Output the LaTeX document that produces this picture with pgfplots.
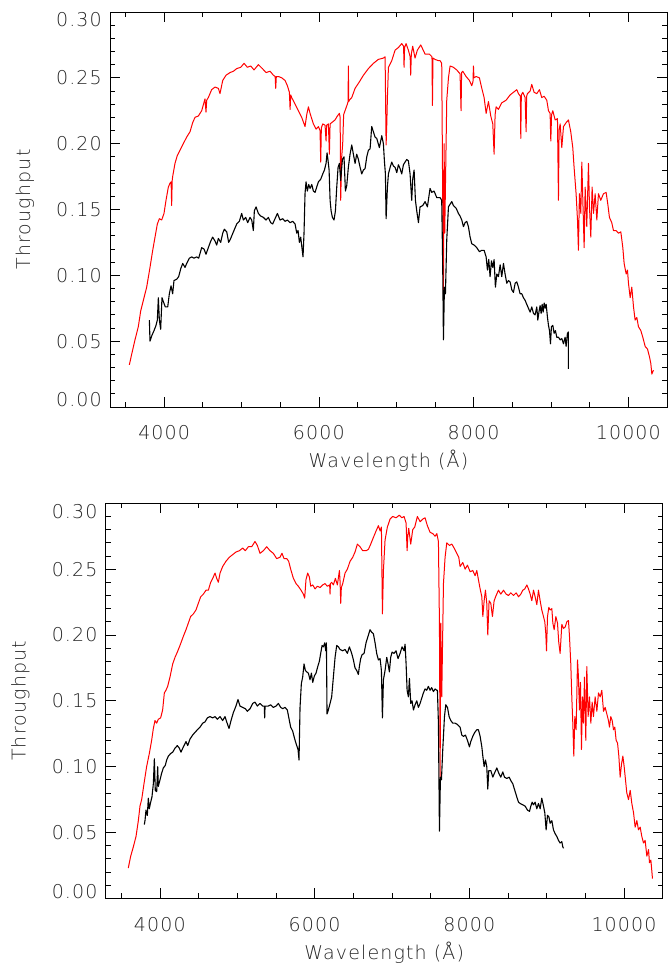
\documentclass[border=0pt]{standalone}
\usepackage{fontspec}
\IfFontExistsTF{DejaVu Sans ExtraLight}{\setmainfont{DejaVu Sans ExtraLight}[LetterSpace=6]}{\setmainfont{DejaVu Sans}[LetterSpace=6]}
\usepackage{pgfplots}
\pgfplotsset{compat=1.18}
\newcommand{\lf}{\fontsize{19bp}{23bp}\selectfont}
\pgfplotsset{panel/.style={
  scale only axis, width=557bp, height=395bp, anchor=south west,
  xmin=3300, xmax=10500, ymin=0, ymax=0.30,
  scaled x ticks=false, scaled y ticks=false,
  xtick={4000,6000,8000,10000}, xticklabels={4000,6000,8000,10000},
  minor xtick={3500,4500,5000,5500,6500,7000,7500,8500,9000,9500,10500},
  ytick={0,0.05,0.1,0.15,0.2,0.25,0.3},
  yticklabels={\vphantom{0}\smash{\raisebox{7bp}{0.00}},0.05,0.10,0.15,0.20,0.25,\vphantom{0}\smash{\raisebox{-8bp}{0.30}}},
  minor ytick={0.01,0.02,0.03,0.04,0.06,0.07,0.08,0.09,0.11,0.12,0.13,0.14,0.16,0.17,0.18,0.19,0.21,0.22,0.23,0.24,0.26,0.27,0.28,0.29},
  tick align=inside, major tick length=10bp, minor tick length=5bp,
  axis line style={line width=0.8bp},
  every tick/.style={black, line width=0.7bp},
  tick label style={font=\lf, inner sep=0pt, text=black!85},
  xticklabel style={anchor=base, yshift=-33bp},
  yticklabel style={anchor=east, xshift=-8bp},
  label style={font=\lf, text=black!85},
  xlabel={Wavelength (Å)}, ylabel={Throughput},
  xlabel style={at={(axis description cs:0.5,-0.137)}, anchor=center},
  ylabel style={at={(axis description cs:-0.153,0.5)}, anchor=center},
  redline/.style={color=red, line width=1.0bp, line join=round},
  blackline/.style={color=black, line width=1.1bp, line join=round},
}}
\begin{document}
\begin{tikzpicture}
\useasboundingbox (0,0) rectangle (668bp,967bp);
% ---------------- top panel ----------------
\begin{axis}[panel, at={(110bp,560bp)}]
\addplot[redline] coordinates {
(3550,0.032)(3580,0.040)(3623,0.051)(3666,0.061)(3697,0.073)(3731,0.081)(3774,0.091)(3817,0.106)(3852,0.119)(3882,0.129)(3912,0.139)(3938,0.143)(3968,0.142)(3998,0.147)(4024,0.157)(4054,0.167)(4076,0.170)(4090,0.171)(4097,0.153)(4104,0.172)(4110,0.175)(4140,0.185)(4170,0.191)(4205,0.195)(4248,0.200)(4291,0.205)(4334,0.209)(4369,0.216)(4399,0.220)(4442,0.221)(4485,0.225)(4528,0.234)(4541,0.224)(4550,0.233)(4571,0.235)(4614,0.241)(4658,0.243)(4701,0.242)(4722,0.238)(4757,0.248)(4800,0.252)(4852,0.254)(4895,0.255)(4938,0.257)(4990,0.258)(5033,0.261)(5076,0.258)(5119,0.259)(5162,0.256)(5218,0.260)(5270,0.257)(5317,0.254)(5369,0.255)(5412,0.252)(5435,0.251)(5442,0.242)(5450,0.251)(5477,0.251)(5520,0.250)(5563,0.248)(5593,0.244)(5619,0.239)(5628,0.226)(5636,0.237)(5649,0.235)(5692,0.230)(5735,0.225)(5778,0.220)(5821,0.213)(5843,0.222)(5865,0.228)(5886,0.223)(5929,0.215)(5964,0.211)(5994,0.213)(6015,0.210)(6024,0.186)(6032,0.212)(6050,0.215)(6080,0.214)(6093,0.202)(6100,0.214)(6123,0.215)(6136,0.192)(6145,0.215)(6166,0.216)(6209,0.218)(6239,0.221)(6265,0.223)(6275,0.220)(6282,0.157)(6295,0.190)(6308,0.200)(6320,0.222)(6338,0.225)(6368,0.230)(6378,0.232)(6381,0.259)(6386,0.232)(6394,0.233)(6425,0.235)(6468,0.242)(6524,0.247)(6576,0.252)(6640,0.257)(6705,0.261)(6769,0.264)(6834,0.265)(6856,0.266)(6869,0.199)(6878,0.215)(6886,0.235)(6899,0.258)(6942,0.263)(6985,0.271)(7028,0.273)(7071,0.276)(7095,0.274)(7101,0.258)(7108,0.273)(7127,0.276)(7157,0.271)(7180,0.266)(7187,0.252)(7195,0.268)(7213,0.274)(7243,0.265)(7273,0.271)(7317,0.275)(7373,0.268)(7429,0.268)(7462,0.266)(7468,0.229)(7475,0.265)(7502,0.264)(7545,0.263)(7567,0.263)(7588,0.261)(7601,0.157)(7610,0.086)(7619,0.200)(7627,0.132)(7653,0.233)(7675,0.250)(7696,0.259)(7739,0.258)(7782,0.256)(7825,0.253)(7838,0.225)(7845,0.254)(7860,0.255)(7903,0.251)(7946,0.248)(7976,0.244)(7992,0.247)(7998,0.259)(8005,0.250)(8032,0.251)(8075,0.250)(8106,0.242)(8136,0.235)(8162,0.223)(8192,0.232)(8222,0.221)(8248,0.215)(8265,0.192)(8278,0.222)(8291,0.228)(8321,0.226)(8364,0.231)(8420,0.233)(8472,0.237)(8515,0.239)(8558,0.241)(8580,0.238)(8605,0.236)(8610,0.204)(8617,0.237)(8636,0.239)(8666,0.235)(8679,0.209)(8686,0.236)(8696,0.238)(8731,0.240)(8752,0.245)(8782,0.239)(8817,0.238)(8851,0.241)(8881,0.235)(8912,0.236)(8946,0.233)(8968,0.225)(8989,0.223)(8998,0.202)(9008,0.222)(9024,0.225)(9054,0.218)(9084,0.219)(9097,0.157)(9105,0.210)(9119,0.215)(9140,0.197)(9162,0.213)(9196,0.216)(9226,0.218)(9256,0.209)(9282,0.197)(9299,0.182)(9325,0.162)(9343,0.142)(9355,0.119)(9368,0.162)(9386,0.147)(9399,0.186)(9412,0.157)(9429,0.121)(9442,0.167)(9463,0.137)(9485,0.185)(9498,0.152)(9515,0.129)(9532,0.167)(9550,0.147)(9571,0.162)(9593,0.142)(9614,0.162)(9644,0.157)(9679,0.162)(9713,0.163)(9735,0.154)(9756,0.144)(9786,0.140)(9808,0.134)(9842,0.134)(9872,0.132)(9903,0.133)(9929,0.121)(9946,0.109)(9972,0.101)(9989,0.104)(10002,0.094)(10024,0.083)(10045,0.091)(10067,0.076)(10088,0.066)(10110,0.068)(10131,0.061)(10162,0.058)(10187,0.053)(10218,0.046)(10248,0.044)(10274,0.038)(10291,0.033)(10304,0.025)(10325,0.028)
};
\addplot[blackline] coordinates {
(3809,0.066)(3817,0.050)(3839,0.054)(3869,0.058)(3895,0.062)(3912,0.066)(3925,0.083)(3938,0.066)(3955,0.059)(3972,0.083)(3990,0.080)(4015,0.076)(4046,0.076)(4067,0.086)(4089,0.092)(4110,0.086)(4127,0.096)(4162,0.097)(4188,0.099)(4214,0.105)(4240,0.109)(4270,0.106)(4291,0.109)(4326,0.113)(4356,0.114)(4386,0.113)(4421,0.114)(4446,0.113)(4485,0.121)(4515,0.120)(4541,0.116)(4571,0.121)(4602,0.126)(4627,0.129)(4658,0.126)(4679,0.123)(4701,0.128)(4731,0.125)(4757,0.132)(4778,0.135)(4809,0.133)(4834,0.125)(4860,0.128)(4895,0.133)(4938,0.139)(4972,0.141)(5002,0.147)(5024,0.142)(5054,0.144)(5080,0.140)(5110,0.144)(5132,0.142)(5153,0.134)(5166,0.149)(5188,0.152)(5218,0.147)(5248,0.145)(5283,0.144)(5317,0.142)(5347,0.144)(5377,0.140)(5403,0.139)(5433,0.143)(5464,0.147)(5498,0.142)(5533,0.143)(5563,0.141)(5593,0.142)(5628,0.140)(5662,0.141)(5692,0.139)(5714,0.132)(5731,0.134)(5748,0.125)(5765,0.129)(5783,0.120)(5795,0.114)(5808,0.132)(5821,0.162)(5834,0.171)(5851,0.164)(5869,0.169)(5886,0.166)(5908,0.169)(5929,0.164)(5951,0.163)(5972,0.167)(5994,0.171)(6024,0.173)(6050,0.177)(6072,0.180)(6093,0.185)(6106,0.193)(6119,0.187)(6132,0.180)(6145,0.157)(6158,0.149)(6175,0.144)(6196,0.142)(6214,0.149)(6231,0.167)(6248,0.182)(6265,0.185)(6282,0.172)(6304,0.188)(6325,0.190)(6343,0.164)(6360,0.168)(6381,0.182)(6403,0.192)(6425,0.199)(6446,0.192)(6468,0.185)(6489,0.192)(6511,0.188)(6533,0.182)(6554,0.177)(6576,0.180)(6597,0.181)(6619,0.190)(6640,0.195)(6662,0.196)(6683,0.213)(6705,0.209)(6726,0.205)(6748,0.204)(6782,0.197)(6813,0.206)(6834,0.200)(6847,0.187)(6860,0.177)(6869,0.143)(6886,0.167)(6899,0.177)(6921,0.182)(6942,0.186)(6964,0.183)(6985,0.182)(7007,0.178)(7028,0.184)(7050,0.181)(7071,0.177)(7093,0.184)(7114,0.186)(7136,0.188)(7157,0.187)(7179,0.177)(7200,0.157)(7213,0.173)(7231,0.180)(7248,0.157)(7265,0.149)(7287,0.140)(7308,0.152)(7343,0.153)(7373,0.156)(7403,0.152)(7437,0.166)(7459,0.163)(7489,0.164)(7524,0.159)(7567,0.159)(7588,0.157)(7601,0.106)(7610,0.051)(7623,0.091)(7636,0.086)(7653,0.127)(7675,0.152)(7696,0.154)(7718,0.156)(7739,0.153)(7774,0.151)(7804,0.147)(7825,0.145)(7847,0.142)(7869,0.137)(7890,0.140)(7912,0.141)(7933,0.137)(7955,0.129)(7976,0.124)(8006,0.123)(8041,0.121)(8075,0.118)(8106,0.119)(8136,0.119)(8162,0.114)(8179,0.104)(8196,0.112)(8213,0.099)(8231,0.111)(8248,0.106)(8265,0.112)(8282,0.091)(8300,0.101)(8321,0.099)(8343,0.108)(8364,0.099)(8386,0.109)(8407,0.101)(8429,0.094)(8450,0.096)(8472,0.095)(8494,0.089)(8515,0.087)(8537,0.094)(8558,0.095)(8580,0.091)(8601,0.086)(8623,0.086)(8644,0.083)(8666,0.081)(8687,0.078)(8709,0.075)(8731,0.072)(8752,0.076)(8774,0.071)(8795,0.070)(8817,0.076)(8830,0.066)(8847,0.073)(8860,0.077)(8873,0.071)(8886,0.078)(8899,0.072)(8912,0.079)(8925,0.075)(8938,0.078)(8955,0.068)(8968,0.062)(8981,0.058)(8994,0.048)(9006,0.061)(9024,0.062)(9041,0.056)(9058,0.058)(9075,0.053)(9097,0.053)(9119,0.051)(9140,0.052)(9162,0.048)(9183,0.053)(9196,0.046)(9213,0.056)(9226,0.057)(9226,0.029)
};
\end{axis}
% ---------------- bottom panel ----------------
\begin{axis}[panel, at={(105.7bp,68.7bp)}]
\addplot[redline] coordinates {
(3592,0.023)(3623,0.032)(3657,0.039)(3692,0.047)(3722,0.059)(3743,0.070)(3765,0.075)(3795,0.087)(3829,0.100)(3864,0.110)(3894,0.120)(3916,0.129)(3937,0.135)(3959,0.133)(3980,0.136)(4010,0.137)(4036,0.143)(4058,0.156)(4079,0.158)(4101,0.161)(4131,0.168)(4166,0.178)(4196,0.183)(4226,0.187)(4260,0.192)(4304,0.199)(4338,0.204)(4368,0.209)(4398,0.214)(4433,0.216)(4467,0.219)(4497,0.224)(4528,0.229)(4562,0.231)(4597,0.234)(4627,0.234)(4657,0.240)(4691,0.244)(4713,0.247)(4735,0.243)(4756,0.240)(4778,0.247)(4812,0.252)(4855,0.256)(4898,0.259)(4941,0.261)(4984,0.263)(5028,0.264)(5071,0.266)(5105,0.264)(5144,0.267)(5187,0.267)(5230,0.271)(5260,0.268)(5295,0.262)(5338,0.264)(5381,0.267)(5424,0.264)(5467,0.262)(5510,0.258)(5553,0.259)(5579,0.262)(5605,0.258)(5640,0.258)(5665,0.256)(5691,0.250)(5726,0.243)(5760,0.239)(5790,0.237)(5825,0.234)(5855,0.231)(5872,0.228)(5889,0.242)(5911,0.247)(5933,0.244)(5950,0.237)(5976,0.238)(6006,0.235)(6036,0.237)(6071,0.236)(6105,0.238)(6135,0.239)(6165,0.237)(6195,0.238)(6200,0.231)(6205,0.239)(6221,0.240)(6243,0.238)(6269,0.243)(6295,0.238)(6321,0.249)(6330,0.240)(6338,0.224)(6346,0.236)(6364,0.239)(6394,0.247)(6424,0.250)(6459,0.256)(6493,0.259)(6523,0.263)(6553,0.269)(6588,0.267)(6622,0.264)(6666,0.264)(6696,0.265)(6726,0.269)(6760,0.274)(6795,0.279)(6825,0.283)(6847,0.279)(6864,0.282)(6877,0.216)(6890,0.249)(6911,0.272)(6941,0.282)(6976,0.288)(7010,0.290)(7053,0.289)(7096,0.291)(7127,0.289)(7157,0.290)(7183,0.285)(7196,0.264)(7205,0.275)(7217,0.281)(7243,0.269)(7269,0.280)(7295,0.282)(7329,0.290)(7364,0.286)(7398,0.288)(7428,0.289)(7458,0.283)(7493,0.278)(7527,0.277)(7558,0.275)(7580,0.277)(7601,0.271)(7614,0.209)(7623,0.092)(7631,0.209)(7644,0.153)(7666,0.239)(7687,0.259)(7709,0.270)(7743,0.268)(7774,0.269)(7804,0.266)(7838,0.262)(7864,0.259)(7881,0.252)(7916,0.255)(7946,0.250)(7976,0.253)(8011,0.248)(8045,0.249)(8075,0.245)(8097,0.249)(8118,0.242)(8140,0.235)(8162,0.229)(8175,0.214)(8192,0.226)(8209,0.234)(8226,0.224)(8239,0.200)(8256,0.226)(8278,0.224)(8299,0.214)(8321,0.226)(8347,0.230)(8377,0.234)(8407,0.231)(8442,0.234)(8476,0.231)(8506,0.230)(8537,0.232)(8571,0.230)(8606,0.232)(8636,0.229)(8666,0.231)(8692,0.234)(8718,0.235)(8744,0.238)(8765,0.235)(8787,0.231)(8808,0.226)(8830,0.234)(8851,0.229)(8873,0.223)(8894,0.234)(8916,0.226)(8937,0.219)(8959,0.214)(8976,0.210)(8989,0.201)(8998,0.188)(9011,0.214)(9028,0.221)(9045,0.219)(9067,0.220)(9080,0.209)(9097,0.204)(9119,0.214)(9140,0.209)(9157,0.194)(9174,0.186)(9196,0.208)(9218,0.205)(9239,0.206)(9261,0.210)(9282,0.211)(9295,0.199)(9312,0.178)(9325,0.153)(9338,0.133)(9351,0.108)(9364,0.138)(9381,0.128)(9399,0.181)(9411,0.168)(9424,0.143)(9437,0.164)(9450,0.113)(9463,0.153)(9476,0.133)(9489,0.168)(9506,0.120)(9519,0.176)(9536,0.138)(9554,0.153)(9571,0.133)(9588,0.149)(9605,0.138)(9627,0.153)(9649,0.142)(9670,0.156)(9692,0.153)(9713,0.158)(9735,0.142)(9756,0.145)(9778,0.140)(9799,0.135)(9812,0.130)(9829,0.138)(9847,0.135)(9864,0.128)(9881,0.130)(9898,0.120)(9916,0.118)(9933,0.108)(9950,0.092)(9968,0.102)(9985,0.108)(10002,0.100)(10019,0.090)(10036,0.080)(10058,0.075)(10080,0.082)(10101,0.072)(10123,0.065)(10144,0.054)(10166,0.059)(10187,0.052)(10209,0.054)(10230,0.047)(10252,0.042)(10273,0.044)(10295,0.032)(10317,0.037)(10329,0.027)(10347,0.029)(10368,0.015)
};
\addplot[blackline] coordinates {
(3799,0.056)(3808,0.059)(3821,0.067)(3838,0.063)(3851,0.076)(3864,0.068)(3881,0.073)(3898,0.077)(3916,0.087)(3929,0.106)(3941,0.082)(3959,0.081)(3972,0.100)(3980,0.085)(4002,0.090)(4023,0.095)(4045,0.099)(4071,0.101)(4088,0.105)(4110,0.108)(4140,0.110)(4166,0.111)(4196,0.114)(4226,0.116)(4252,0.114)(4273,0.111)(4304,0.115)(4338,0.119)(4360,0.116)(4390,0.121)(4424,0.124)(4454,0.126)(4485,0.128)(4519,0.130)(4554,0.133)(4584,0.134)(4614,0.137)(4648,0.138)(4683,0.137)(4713,0.138)(4743,0.136)(4778,0.138)(4812,0.135)(4842,0.138)(4864,0.134)(4894,0.129)(4920,0.135)(4950,0.141)(4984,0.146)(5010,0.151)(5036,0.146)(5071,0.145)(5105,0.144)(5131,0.142)(5166,0.144)(5200,0.148)(5230,0.149)(5260,0.146)(5295,0.148)(5329,0.146)(5350,0.146)(5355,0.137)(5360,0.146)(5372,0.146)(5402,0.146)(5433,0.147)(5467,0.145)(5502,0.146)(5532,0.148)(5562,0.145)(5588,0.144)(5618,0.145)(5648,0.143)(5674,0.135)(5691,0.130)(5717,0.127)(5743,0.121)(5769,0.116)(5786,0.113)(5799,0.105)(5812,0.145)(5829,0.163)(5846,0.168)(5864,0.178)(5881,0.173)(5898,0.172)(5920,0.171)(5941,0.166)(5959,0.171)(5976,0.164)(5998,0.169)(6019,0.171)(6041,0.176)(6062,0.180)(6079,0.186)(6097,0.192)(6114,0.191)(6131,0.194)(6144,0.188)(6153,0.194)(6161,0.140)(6178,0.143)(6200,0.148)(6221,0.153)(6243,0.168)(6265,0.183)(6286,0.192)(6308,0.191)(6329,0.189)(6364,0.188)(6394,0.189)(6424,0.186)(6450,0.191)(6480,0.186)(6502,0.181)(6523,0.175)(6545,0.173)(6566,0.170)(6579,0.176)(6596,0.182)(6614,0.185)(6640,0.186)(6665,0.194)(6691,0.199)(6717,0.204)(6739,0.202)(6760,0.201)(6782,0.194)(6803,0.186)(6825,0.181)(6847,0.182)(6864,0.173)(6877,0.137)(6890,0.166)(6911,0.173)(6933,0.183)(6950,0.178)(6967,0.172)(6984,0.183)(7002,0.187)(7027,0.186)(7053,0.188)(7079,0.182)(7105,0.186)(7131,0.191)(7157,0.188)(7170,0.193)(7183,0.178)(7196,0.158)(7213,0.153)(7226,0.167)(7243,0.148)(7260,0.150)(7278,0.143)(7299,0.147)(7321,0.150)(7342,0.145)(7364,0.148)(7385,0.152)(7407,0.156)(7428,0.159)(7450,0.158)(7471,0.161)(7493,0.158)(7514,0.160)(7536,0.157)(7558,0.159)(7579,0.158)(7588,0.158)(7601,0.133)(7614,0.051)(7627,0.092)(7640,0.090)(7657,0.113)(7679,0.138)(7696,0.147)(7718,0.145)(7739,0.138)(7761,0.135)(7787,0.133)(7817,0.133)(7847,0.132)(7881,0.130)(7903,0.124)(7925,0.123)(7950,0.124)(7976,0.120)(8002,0.115)(8019,0.119)(8045,0.123)(8071,0.126)(8097,0.128)(8118,0.128)(8140,0.123)(8162,0.115)(8175,0.108)(8192,0.100)(8209,0.105)(8226,0.100)(8239,0.083)(8252,0.097)(8278,0.097)(8304,0.092)(8325,0.095)(8356,0.099)(8381,0.095)(8407,0.092)(8433,0.096)(8455,0.092)(8485,0.091)(8515,0.092)(8541,0.089)(8562,0.087)(8588,0.082)(8614,0.077)(8636,0.073)(8657,0.072)(8692,0.071)(8722,0.070)(8752,0.067)(8778,0.066)(8795,0.070)(8812,0.073)(8830,0.071)(8851,0.073)(8873,0.068)(8894,0.072)(8916,0.068)(8937,0.076)(8959,0.070)(8976,0.065)(8993,0.052)(9011,0.063)(9028,0.062)(9045,0.057)(9067,0.059)(9088,0.052)(9110,0.049)(9131,0.047)(9153,0.044)(9174,0.042)(9196,0.043)(9209,0.039)(9218,0.038)
};
\end{axis}
\end{tikzpicture}
\end{document}
